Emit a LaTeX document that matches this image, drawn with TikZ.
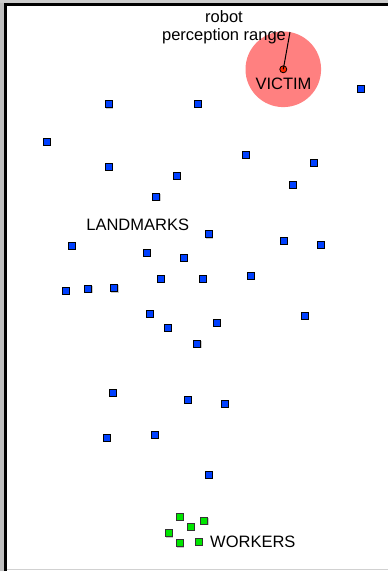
\documentclass[tikz,border=0pt]{standalone}
\usepackage{fontspec}
\setmainfont{Liberation Sans}
\usetikzlibrary{shadows}
\definecolor{lmblue}{RGB}{0,64,255}
\definecolor{wkgreen}{RGB}{0,230,0}
\definecolor{rangered}{RGB}{255,128,128}
\definecolor{dotred}{RGB}{255,40,0}
\tikzset{
  landmark/.style={draw=black,line width=0.9pt,fill=lmblue,minimum size=7.2pt,inner sep=0pt,
    drop shadow={shadow xshift=0.6pt,shadow yshift=-0.6pt,fill=black!35,opacity=0.6}},
  worker/.style={draw=black!80,line width=0.9pt,fill=wkgreen,minimum size=7.2pt,inner sep=0pt,
    drop shadow={shadow xshift=0.6pt,shadow yshift=-0.6pt,fill=black!35,opacity=0.6}},
  lbl/.style={font=\fontsize{16.5}{20}\selectfont,inner sep=0pt,align=center}
}
\begin{document}
\begin{tikzpicture}[x=1pt,y=-1pt]
\useasboundingbox (0,0) rectangle (388,571);
\fill[white] (0,0) rectangle (388,571);
% frame
\fill[black!25] (0,0) rectangle (4,571);
\fill[black!20] (0,0) rectangle (388,3);
\draw[line width=2.4pt] (5.6,571) -- (5.6,4.4) -- (388,4.4);
\draw[black!18,line width=1.5pt] (7,569.6) -- (388,569.6);
% victim
\fill[rangered] (283.3,69.3) circle (37.8);
\node[circle,draw=black,line width=0.8pt,fill=dotred,minimum size=7pt,inner sep=0pt] (victimdot) at (283.3,69.3) {};
\coordinate (rangeend) at (290,32);
\draw[line width=1pt] (victimdot.center) -- (rangeend);
\node[lbl] (victim) at (283.5,84) {VICTIM};
\node[lbl] (robot) at (224,16.7) {robot};
\node[lbl] (percep) at (224,36.7) {perception range};
\node[lbl] (landmarks) at (137.7,224.7) {LANDMARKS};
\node[lbl,anchor=west] (workers) at (210,541.7) {WORKERS};
% landmarks
\foreach \n/\x/\y in {
 1/108.7/104.3, 2/197.7/104, 3/360.7/88.7, 4/47/141.7, 5/108.7/167,
 6/176.7/176, 7/245.7/155, 8/314/163, 9/293/185, 10/156.3/197,
 11/209/234.3, 12/72/246, 13/284/241, 14/321/245, 15/146.7/252.7,
 16/184/257.7, 17/161/279, 18/203/279, 19/251/276, 20/66/290.7,
 21/88.3/288.7, 22/114.3/288.3, 23/149.7/314, 24/168/328, 25/217/322.7,
 26/305/316, 27/197.3/343.7, 28/113/393, 29/188/400, 30/225/404,
 31/107/438, 32/155/435, 33/209/475}
{\node[landmark] (l\n) at (\x,\y) {};}
% workers
\foreach \n/\x/\y in {1/180/516.7, 2/204.3/521, 3/191/526.7, 4/169/533.3, 5/180/543.3, 6/199/541.7}
{\node[worker] (w\n) at (\x,\y) {};}
\end{tikzpicture}
\end{document}
